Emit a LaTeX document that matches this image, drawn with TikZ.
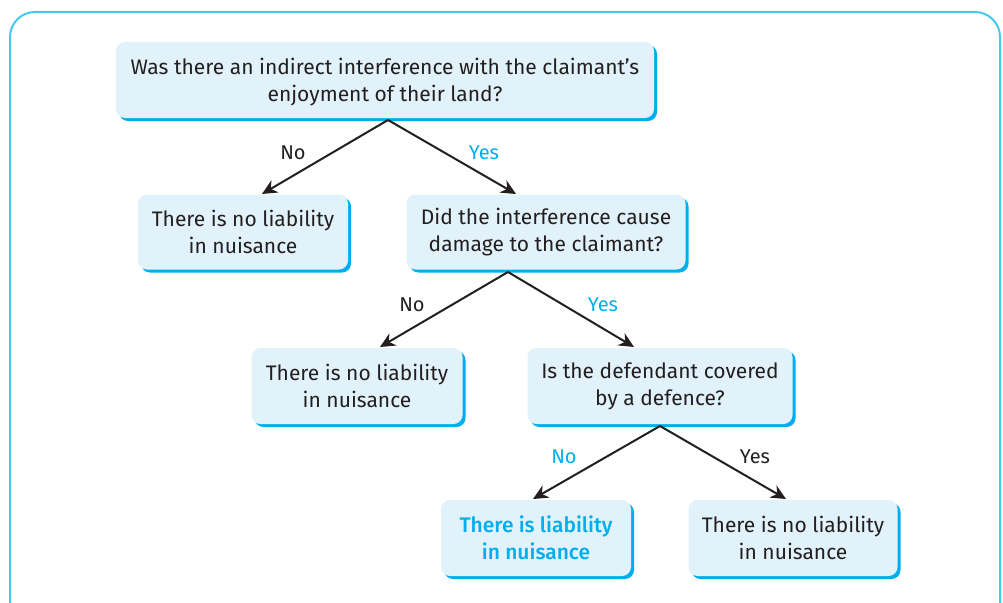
\documentclass[tikz,border=0pt]{standalone}
\usepackage{fontspec}
\setmainfont{Fira Sans}[BoldFont=* Medium]
\usetikzlibrary{arrows.meta,shadows}
\definecolor{boxfill}{HTML}{E1F2FA}
\definecolor{cyanc}{HTML}{00AEEF}
\definecolor{framec}{HTML}{45C8F2}
\definecolor{txt}{HTML}{231F20}
\tikzset{
  qbox/.style={draw=none, fill=boxfill, rounded corners=9pt, align=center,
    font=\fontsize{21}{27}\selectfont, text=txt, inner sep=0pt,
    drop shadow={shadow xshift=3pt, shadow yshift=-3pt, fill=cyanc, opacity=1, rounded corners=9pt}},
  conn/.style={line width=2pt, draw=txt, -{Stealth[length=15pt,width=14pt]}},
  lab/.style={font=\fontsize{20}{22}\selectfont, text=txt},
  ylab/.style={font=\fontsize{20}{22}\selectfont, text=cyanc},
}
\begin{document}
\begin{tikzpicture}[x=1pt,y=-1pt]
\useasboundingbox (0,0) rectangle (1003,602);
\begin{scope}
\clip (0,0) rectangle (1003,602);
\draw[framec, line width=2pt, rounded corners=25pt] (10,12) rectangle (1000,640);
\end{scope}
\node[qbox, minimum width=538pt, minimum height=76pt, text depth=0pt] (q1) at (385,80) {Was there an indirect interference with the claimant’s\\enjoyment of their land?};
\node[qbox, minimum width=210pt, minimum height=75pt] (n1) at (243,232) {There is no liability\\in nuisance};
\node[qbox, minimum width=279pt, minimum height=75pt] (q2) at (546,232) {Did the interference cause\\damage to the claimant?};
\node[qbox, minimum width=211pt, minimum height=76pt] (n2) at (357,386) {There is no liability\\in nuisance};
\node[qbox, minimum width=265pt, minimum height=76pt] (q3) at (660,386) {Is the defendant covered\\by a defence?};
\node[qbox, minimum width=190pt, minimum height=76pt, text=cyanc, font=\fontsize{21}{27}\selectfont\bfseries] (l1) at (536,538) {There is liability\\in nuisance};
\node[qbox, minimum width=209pt, minimum height=76pt] (n3) at (793,538) {There is no liability\\in nuisance};
\coordinate (a1) at (388,120);
\coordinate (a2) at (508,272);
\coordinate (a3) at (660,426);
\draw[conn] (a1) -- (262,194);
\draw[conn] (a1) -- (516,194);
\draw[conn] (a2) -- (380,347);
\draw[conn] (a2) -- (634,347);
\draw[conn] (a3) -- (533,499);
\draw[conn] (a3) -- (786,499);
\node[lab] (t1) at (293,153) {No};
\node[ylab] (t2) at (484,153) {Yes};
\node[lab] (t3) at (412,305) {No};
\node[ylab] (t4) at (603,305) {Yes};
\node[ylab] (t5) at (564,457) {No};
\node[lab] (t6) at (755,457) {Yes};
\end{tikzpicture}
\end{document}
